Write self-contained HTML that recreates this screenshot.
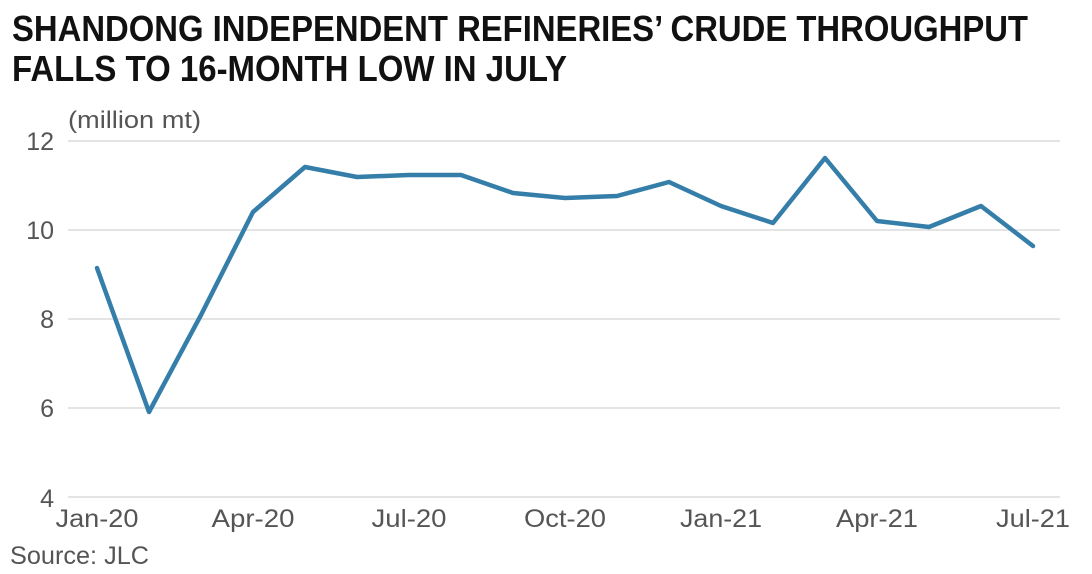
<!DOCTYPE html>
<html><head><meta charset="utf-8"><style>
html,body{margin:0;padding:0;background:#fff;}
svg{display:block;}
</style></head><body>
<svg width="1092" height="574" viewBox="0 0 1092 574" xmlns="http://www.w3.org/2000/svg" font-family="Liberation Sans, sans-serif">
<rect width="1092" height="574" fill="#fff"/>
<text x="12" y="41" font-size="36" font-weight="bold" fill="#111" textLength="1016" lengthAdjust="spacingAndGlyphs">SHANDONG INDEPENDENT REFINERIES’ CRUDE THROUGHPUT</text>
<text x="12" y="81" font-size="36" font-weight="bold" fill="#111" textLength="555" lengthAdjust="spacingAndGlyphs">FALLS TO 16-MONTH LOW IN JULY</text>
<text x="68" y="128" font-size="24" fill="#555" textLength="133" lengthAdjust="spacingAndGlyphs">(million mt)</text>
<g stroke="#dcdcdc" stroke-width="1.5">
<line x1="68" x2="1060" y1="141" y2="141"/>
<line x1="68" x2="1060" y1="230" y2="230"/>
<line x1="68" x2="1060" y1="319" y2="319"/>
<line x1="68" x2="1060" y1="408" y2="408"/>
<line x1="68" x2="1060" y1="497" y2="497"/>
</g>
<g font-size="25" fill="#555" text-anchor="end">
<text x="54" y="150">12</text>
<text x="54" y="239">10</text>
<text x="54" y="328">8</text>
<text x="54" y="417">6</text>
<text x="54" y="507">4</text>
</g>
<g font-size="25" fill="#555" text-anchor="middle">
<text x="97" y="527" textLength="83" lengthAdjust="spacingAndGlyphs">Jan-20</text>
<text x="253" y="527" textLength="83" lengthAdjust="spacingAndGlyphs">Apr-20</text>
<text x="409" y="527" textLength="75" lengthAdjust="spacingAndGlyphs">Jul-20</text>
<text x="565" y="527" textLength="82" lengthAdjust="spacingAndGlyphs">Oct-20</text>
<text x="721" y="527" textLength="82" lengthAdjust="spacingAndGlyphs">Jan-21</text>
<text x="877" y="527" textLength="82" lengthAdjust="spacingAndGlyphs">Apr-21</text>
<text x="1033" y="527" textLength="74" lengthAdjust="spacingAndGlyphs">Jul-21</text>
</g>
<text x="10" y="564" font-size="25" fill="#555" textLength="139" lengthAdjust="spacingAndGlyphs">Source: JLC</text>
<polyline fill="none" stroke="#347ea9" stroke-width="4.5" stroke-linejoin="round" stroke-linecap="round"
points="97,268 149,412 201,315 253,212 305,167 357,177 409,175 461,175 513,193 565,198 617,196 669,182 721,206 773,223 825,158 877,221 929,227 981,206 1033,246"/>
</svg>
</body></html>
